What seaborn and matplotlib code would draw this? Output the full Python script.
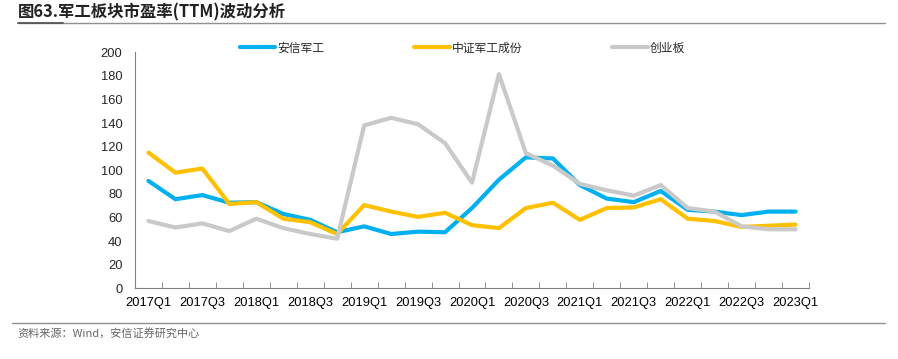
import matplotlib
matplotlib.use("Agg")
import matplotlib.pyplot as plt
from matplotlib.lines import Line2D
import seaborn as sns
import pandas as pd
import numpy as np

# ------------------------------------------------------------------------------
# data
# ------------------------------------------------------------------------------
quarters = [f"{y}Q{q}" for y in range(2017, 2023) for q in range(1, 5)] + ["2023Q1"]

anxin_jungong = [91, 75.5, 79, 72.5, 73, 63, 58, 47.5, 52.5, 46, 48, 47.5, 68,
                 92, 111, 110, 87.5, 76, 73, 82.5, 66.5, 65, 62, 65, 65]
zhongzheng_jungong = [115, 98, 101.5, 71.5, 73, 59, 56, 46, 70.5, 65, 60.5, 64,
                      53.5, 51, 68, 72.5, 58, 68, 68.5, 75.5, 59, 57, 52, 53, 54]
chuangyeban = [57, 51.5, 55, 48.5, 59, 51, 46, 42, 138, 144.5, 139, 123, 89.5,
               181.5, 114.5, 104, 88.5, 83, 78.5, 87.5, 68, 65, 52.5, 50, 50]

series_names = ["安信军工", "中证军工成份", "创业板"]
colors = ["#00B0F0", "#FFC000", "#C9C9C9"]

df = pd.DataFrame({
    "idx": np.tile(np.arange(len(quarters)), 3),
    "value": anxin_jungong + zhongzheng_jungong + chuangyeban,
    "series": np.repeat(series_names, len(quarters)),
})

# ------------------------------------------------------------------------------
# plot
# ------------------------------------------------------------------------------
sns.set_style("white")
plt.rcParams["font.family"] = ["Liberation Sans", "Noto Sans CJK SC", "DejaVu Sans"]

fig = plt.figure(figsize=(8.98, 3.59), dpi=100)
ax = fig.add_axes([0.1503, 0.197, 0.7506, 0.6573])

sns.lineplot(data=df, x="idx", y="value", hue="series", hue_order=series_names,
             palette=colors, linewidth=3, ax=ax, legend=False)

ax.set_xlim(-0.5, len(quarters) - 0.5)
ax.set_ylim(0, 200)
ax.set_yticks(range(0, 201, 20))
ax.set_xticks(range(0, len(quarters), 2))
ax.set_xticklabels(quarters[::2])
ax.set_xticks(np.arange(-0.5, len(quarters), 1), minor=True)
ax.tick_params(axis="x", which="major", length=0, pad=6, labelsize=9.3, colors="black")
ax.tick_params(axis="x", which="minor", length=4, direction="in", color="#808080", bottom=True)
ax.tick_params(axis="y", length=0, pad=9, labelsize=9.3)
ax.set_xlabel("")
ax.set_ylabel("")

for s in ["top", "right"]:
    ax.spines[s].set_visible(False)
for s in ["left", "bottom"]:
    ax.spines[s].set_color("#808080")
    ax.spines[s].set_linewidth(0.8)

handles = [Line2D([0], [0], color=c, lw=3) for c in colors]
fig.legend(handles, series_names, loc="center", bbox_to_anchor=(0.515, 0.866),
           ncol=3, frameon=False, handlelength=3.0,
           handletextpad=0.2, columnspacing=7.6,
           prop={"family": ["Noto Sans CJK SC"], "size": 8.5})

# title + rules + source
fig.text(0.02, 0.966, "图63.军工板块市盈率(TTM)波动分析", fontsize=11.8, fontweight="bold",
         color="#222222", va="center", ha="left",
         family=["Noto Sans CJK SC", "DejaVu Sans"])
fig.add_artist(Line2D([0.02, 0.985], [0.937, 0.937], color="#909090", lw=1))
fig.add_artist(Line2D([0.02, 0.07], [0.937, 0.937], color="#555555", lw=1.3))
fig.add_artist(Line2D([0.013, 0.985], [0.1, 0.1], color="#909090", lw=1))
fig.text(0.02, 0.072, "资料来源：Wind，安信证券研究中心", fontsize=8, style="italic",
         color="#666666", va="center", ha="left",
         family=["Noto Sans CJK SC", "DejaVu Sans"])

fig.savefig("out.png", dpi=100)
